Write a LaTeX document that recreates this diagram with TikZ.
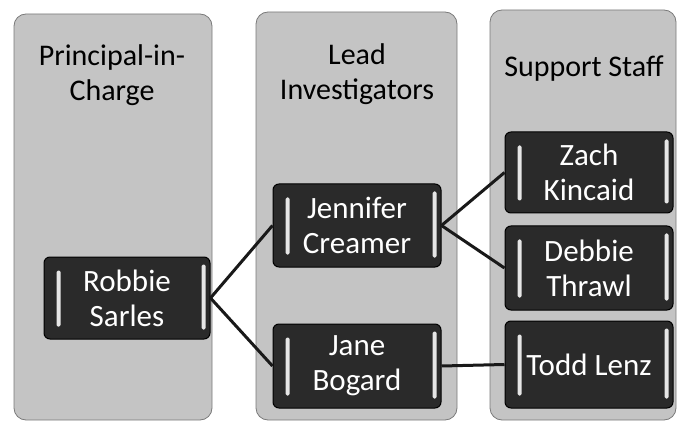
\documentclass[tikz,border=0pt]{standalone}
\usepackage{fontspec}
\setmainfont{Carlito}
\definecolor{panelfill}{HTML}{C4C4C4}
\definecolor{paneledge}{HTML}{7A7A7A}
\definecolor{boxfill}{HTML}{2A2A2A}
\definecolor{bevel}{HTML}{E6E6E6}
\begin{document}
\begin{tikzpicture}[x=1pt,y=-1pt,
  panel/.style={draw=paneledge, line width=0.8pt, fill=panelfill, rounded corners=12pt, inner sep=0pt},
  head/.style={align=center, text=black, font=\fontsize{30}{35}\selectfont, inner sep=0pt},
  person/.style={draw=black, line width=1pt, fill=boxfill, rounded corners=6pt, text=white,
    align=center, font=\fontsize{31}{35}\selectfont, inner sep=0pt},
  link/.style={line width=3pt, black!90}]
\useasboundingbox (0,0) rectangle (680,422);
% panels
\node[panel, minimum width=198pt, minimum height=406pt] (p1) at (113,217) {};
\node[panel, minimum width=201pt, minimum height=408pt] (p2) at (356.5,216) {};
\node[panel, minimum width=186pt, minimum height=410pt] (p3) at (583,215) {};
% headings
\node[head, anchor=base] (h1) at (112,101) {Principal-in-\\Charge};
\node[head, anchor=base] (h2) at (357,100) {Lead\\Investigators};
\node[head, anchor=base] (h3) at (584,77) {Support Staff};
% people
\node[person, minimum width=166pt, minimum height=82pt] (rs) at (127,298) {Robbie\\Sarles};
\node[person, minimum width=168pt, minimum height=83pt] (jc) at (357,225.5) {Jennifer\\Creamer};
\node[person, minimum width=168pt, minimum height=84pt] (jb) at (357,366) {Jane\\Bogard};
\node[person, minimum width=168pt, minimum height=81pt] (zk) at (589,172.5) {Zach\\Kincaid};
\node[person, minimum width=168pt, minimum height=84pt] (dt) at (589,268) {Debbie\\Thrawl};
\node[person, minimum width=168pt, minimum height=87pt] (tl) at (589,364.5) {Todd Lenz};
% bevel highlights
\foreach \n in {rs,jc,jb,zk,dt,tl}{
  \path[fill=bevel, rounded corners=1.5pt]
    ([xshift=13pt,yshift=-14pt]\n.north west) rectangle ([xshift=17pt,yshift=13pt]\n.south west);
  \path[fill=bevel, rounded corners=1.5pt]
    ([xshift=-9pt,yshift=-8pt]\n.north east) rectangle ([xshift=-5pt,yshift=10pt]\n.south east);
}
% connectors
\draw[link] (rs.east) -- (jc.west);
\draw[link] (rs.east) -- (jb.west);
\draw[link] (jc.east) -- (zk.west);
\draw[link] (jc.east) -- (dt.west);
\draw[link] (jb.east) -- (tl.west);
\end{tikzpicture}
\end{document}
